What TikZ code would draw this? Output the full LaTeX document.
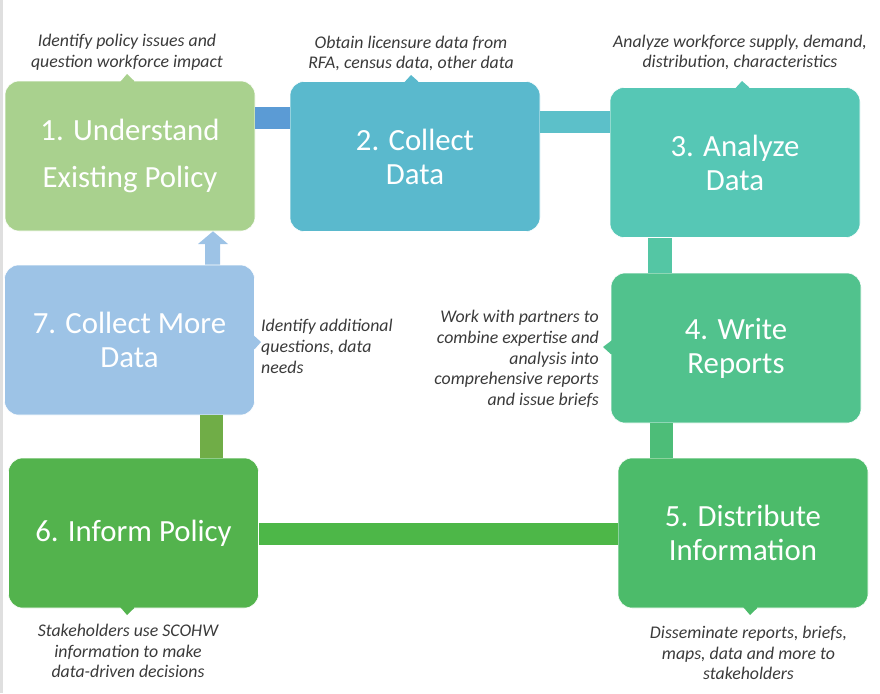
\documentclass[tikz,border=0pt]{standalone}
\usepackage{fontspec}
\setmainfont{Carlito}
\usetikzlibrary{calc}
\definecolor{cA}{HTML}{A9D18E}
\definecolor{cB}{HTML}{5AB9CD}
\definecolor{cC}{HTML}{56C7B5}
\definecolor{cD}{HTML}{51C28D}
\definecolor{cE}{HTML}{4CBB6A}
\definecolor{cF}{HTML}{53B34D}
\definecolor{cG}{HTML}{9DC3E6}
\definecolor{kAB}{HTML}{5B9BD5}
\definecolor{kBC}{HTML}{5CC0C9}
\definecolor{kCD}{HTML}{54C6A4}
\definecolor{kDE}{HTML}{4DBD78}
\definecolor{kEF}{HTML}{4DB748}
\definecolor{kFG}{HTML}{70AD47}
\definecolor{notegray}{HTML}{3A3A3A}
\tikzset{
  stepbox/.style={rounded corners=14pt, draw=white, line width=0.6pt,
    minimum width=250, minimum height=150, inner sep=0pt, align=center,
    text=white, font=\fontsize{30.8}{34}\selectfont},
  note/.style={inner sep=0pt, text=notegray, font=\itshape\fontsize{17.8}{20.8}\selectfont},
}
\begin{document}
\begin{tikzpicture}[x=1pt,y=-1pt]
\useasboundingbox (0,0) rectangle (880,693);
\fill[gray!25] (0,0) rectangle (2.5,693);

% boxes
\node[stepbox, fill=cA, font=\fontsize{30.8}{47}\selectfont] (b1) at (130,156) {1. Understand\\Existing Policy};
\node[stepbox, fill=cB] (b2) at (415,156.5) {2. Collect\\Data};
\node[stepbox, fill=cC] (b3) at (735,162.5) {3. Analyze\\Data};
\node[stepbox, fill=cD] (b4) at (736,348) {4. Write\\Reports};
\node[stepbox, fill=cE] (b5) at (743,533) {5. Distribute\\Information};
\node[stepbox, fill=cF] (b6) at (133.5,533) {6. Inform Policy};
\node[stepbox, fill=cG] (b7) at (129.5,340) {7. Collect More\\Data};

% callout pointers
\fill[cA] (120,0 |- b1.north) ++(0,1.5) -- (127,74) -- (134,0 |- b1.north) -- ++(0,1.5) -- cycle;
\fill[cB] (404,0 |- b2.north) ++(0,1.5) -- (411,75) -- (418,0 |- b2.north) -- ++(0,1.5) -- cycle;
\fill[cC] (735,0 |- b3.north) ++(0,1.5) -- (742,81) -- (749,0 |- b3.north) -- ++(0,1.5) -- cycle;
\fill[cD] (b4.west |- 0,340) ++(1.5,0) -- (603,347) -- (b4.west |- 0,354) -- ++(1.5,0) -- cycle;
\fill[cG] (b7.east |- 0,335) ++(-1.5,0) -- (261,342) -- (b7.east |- 0,349) -- ++(-1.5,0) -- cycle;
\fill[cE] (743,0 |- b5.south) ++(0,-1.5) -- (750,615) -- (757,0 |- b5.south) -- ++(0,-1.5) -- cycle;
\fill[cF] (120,0 |- b6.south) ++(0,-1.5) -- (127,615) -- (134,0 |- b6.south) -- ++(0,-1.5) -- cycle;

% connectors
\fill[kAB] (b1.east |- 0,107) rectangle (b2.west |- 0,129);
\fill[kBC] (b2.east |- 0,111) rectangle (b3.west |- 0,133);
\fill[kCD] (648,0 |- b3.south) rectangle (672,0 |- b4.north);
\fill[kDE] (650,0 |- b4.south) rectangle (673,0 |- b5.north);
\fill[kEF] (b6.east |- 0,523) rectangle (b5.west |- 0,545);
\fill[kFG] (200,0 |- b7.south) rectangle (223,0 |- b6.north);
\fill[cG] (205,0 |- b7.north) -- (205,244) -- (198,244) -- (213,0 |- b1.south)
  -- (228,244) -- (220,244) -- (220,0 |- b7.north) -- cycle;

% notes
\node[note, align=center] (n1) at (127,52.5) {Identify policy issues and\\question workforce impact};
\node[note, align=center] (n2) at (411,53.5) {Obtain licensure data from\\RFA, census data, other data};
\node[note, align=center] (n3) at (740,52.5) {Analyze workforce supply, demand,\\distribution, characteristics};
\node[note, align=left, anchor=west] (n7) at (261,346.5) {Identify additional\\questions, data\\needs};
\node[note, align=right, anchor=east] (n4) at (599,359) {Work with partners to\\combine expertise and\\analysis into\\comprehensive reports\\and issue briefs};
\node[note, align=center] (n6) at (128,651) {Stakeholders use SCOHW\\information to make\\data-driven decisions};
\node[note, align=center] (n5) at (748.5,653) {Disseminate reports, briefs,\\maps, data and more to\\stakeholders};
\end{tikzpicture}
\end{document}
